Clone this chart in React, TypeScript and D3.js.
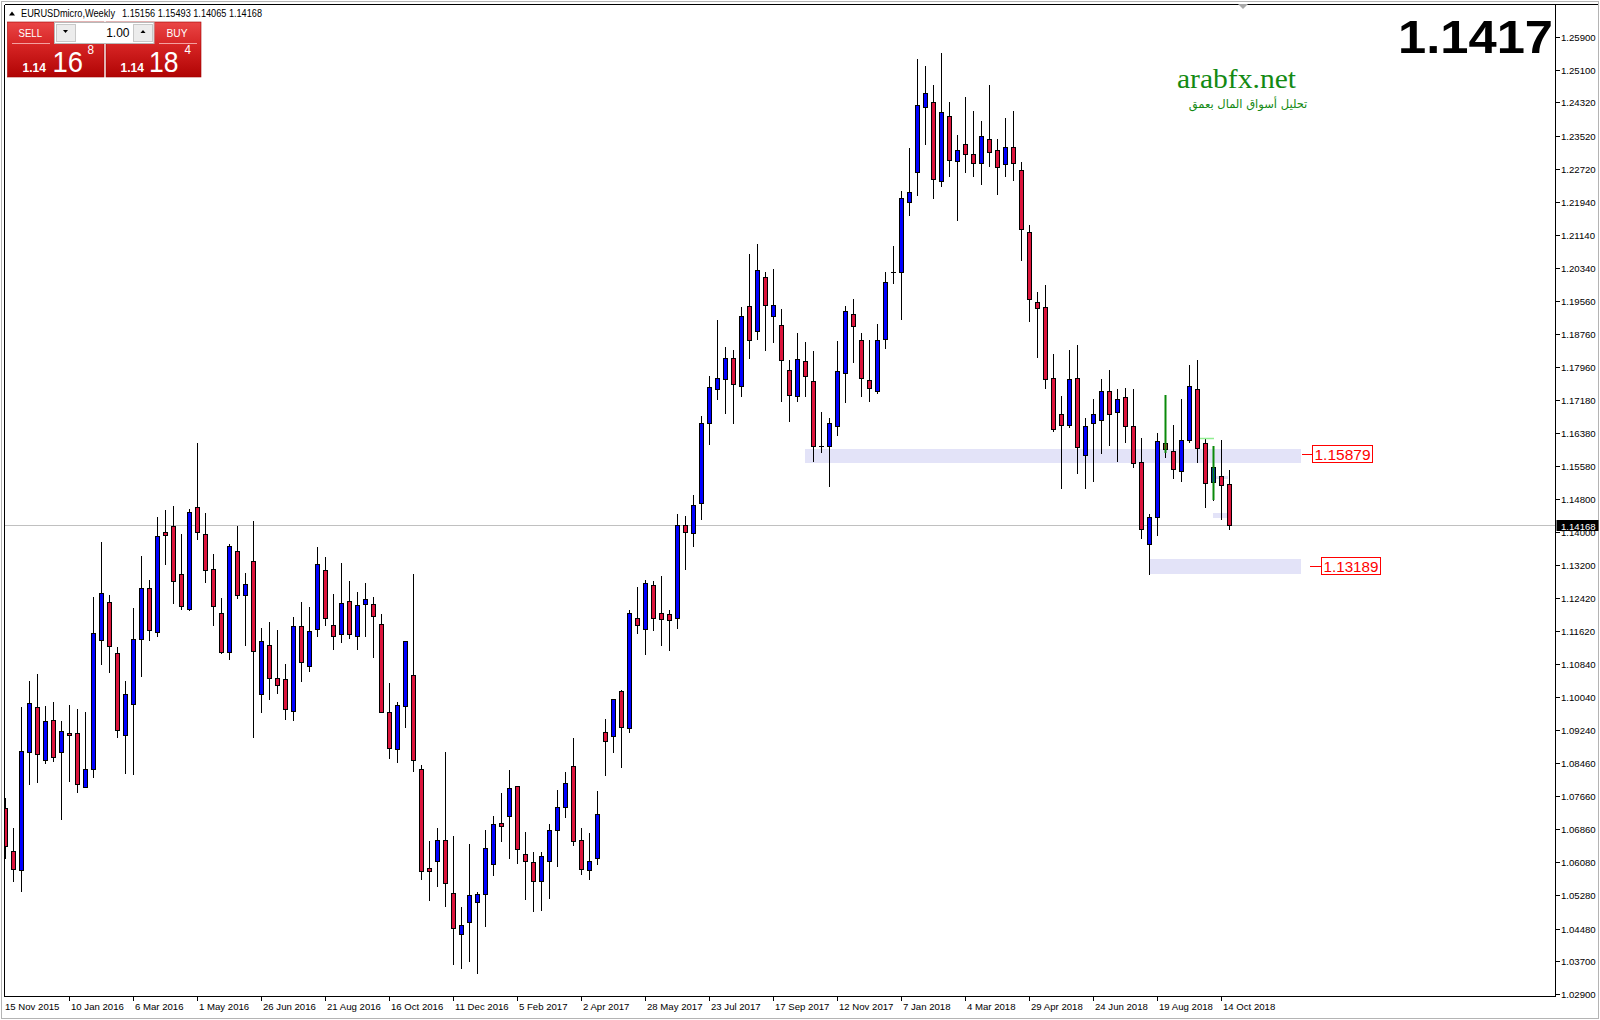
import React, { useEffect, useRef } from 'react';
import * as d3 from 'd3';

// weekly EURUSD candles, first bar = week of 15 Nov 2015
// [open, high, low, close]
const ohlc: [number, number, number, number][] = [
  [1.0737, 1.0761, 1.0617, 1.0645], [1.0635, 1.0689, 1.0563, 1.0590], [1.0589, 1.0979, 1.0539, 1.0875], [1.0871, 1.1043, 1.0794, 1.0990],
  [1.0981, 1.1059, 1.0801, 1.0867], [1.0853, 1.0982, 1.0845, 1.0947], [1.0950, 1.0992, 1.0851, 1.0859], [1.0871, 1.0946, 1.0710, 1.0923],
  [1.0917, 1.0984, 1.0803, 1.0912], [1.0918, 1.0975, 1.0777, 1.0795], [1.0789, 1.0968, 1.0787, 1.0830], [1.0830, 1.1244, 1.0813, 1.1157],
  [1.1140, 1.1376, 1.1083, 1.1253], [1.1232, 1.1249, 1.1065, 1.1127], [1.1109, 1.1123, 1.0909, 1.0926], [1.0912, 1.1043, 1.0822, 1.1011],
  [1.0987, 1.1218, 1.0820, 1.1143], [1.1143, 1.1343, 1.1055, 1.1265], [1.1265, 1.1284, 1.1141, 1.1164], [1.1159, 1.1436, 1.1151, 1.1390],
  [1.1400, 1.1453, 1.1324, 1.1392], [1.1414, 1.1463, 1.1231, 1.1282], [1.1299, 1.1396, 1.1216, 1.1222], [1.1215, 1.1456, 1.1212, 1.1448],
  [1.1460, 1.1614, 1.1384, 1.1400], [1.1395, 1.1446, 1.1281, 1.1308], [1.1311, 1.1348, 1.1177, 1.1222], [1.1207, 1.1242, 1.1109, 1.1111],
  [1.1111, 1.1372, 1.1096, 1.1366], [1.1354, 1.1415, 1.1243, 1.1248], [1.1248, 1.1302, 1.1130, 1.1275], [1.1330, 1.1427, 1.0909, 1.1114],
  [1.1011, 1.1170, 1.0969, 1.1138], [1.1128, 1.1184, 1.1000, 1.1049], [1.1049, 1.1165, 1.1014, 1.1032], [1.1047, 1.1083, 1.0952, 1.0975],
  [1.0970, 1.1196, 1.0950, 1.1174], [1.1174, 1.1232, 1.1043, 1.1087], [1.1078, 1.1220, 1.1067, 1.1162], [1.1167, 1.1364, 1.1151, 1.1323],
  [1.1308, 1.1340, 1.1177, 1.1193], [1.1176, 1.1251, 1.1120, 1.1151], [1.1156, 1.1325, 1.1137, 1.1229], [1.1234, 1.1282, 1.1146, 1.1155],
  [1.1151, 1.1256, 1.1120, 1.1224], [1.1228, 1.1278, 1.1151, 1.1239], [1.1227, 1.1244, 1.1101, 1.1199], [1.1179, 1.1203, 1.0967, 1.0969],
  [1.0967, 1.1038, 1.0858, 1.0882], [1.0880, 1.0991, 1.0849, 1.0984], [1.0983, 1.1139, 1.0933, 1.1139], [1.1058, 1.1300, 1.0827, 1.0853],
  [1.0830, 1.0841, 1.0567, 1.0587], [1.0593, 1.0658, 1.0517, 1.0587], [1.0609, 1.0690, 1.0550, 1.0660], [1.0660, 1.0872, 1.0503, 1.0558],
  [1.0533, 1.0670, 1.0363, 1.0449], [1.0436, 1.0500, 1.0352, 1.0456], [1.0464, 1.0651, 1.0371, 1.0528], [1.0512, 1.0535, 1.0340, 1.0530],
  [1.0530, 1.0685, 1.0453, 1.0641], [1.0602, 1.0718, 1.0577, 1.0698], [1.0701, 1.0774, 1.0658, 1.0695], [1.0719, 1.0829, 1.0618, 1.0785],
  [1.0790, 1.0790, 1.0606, 1.0638], [1.0626, 1.0680, 1.0520, 1.0609], [1.0607, 1.0631, 1.0491, 1.0561], [1.0561, 1.0631, 1.0493, 1.0622],
  [1.0609, 1.0698, 1.0522, 1.0684], [1.0684, 1.0781, 1.0599, 1.0739], [1.0739, 1.0824, 1.0717, 1.0797], [1.0838, 1.0905, 1.0649, 1.0658],
  [1.0660, 1.0690, 1.0580, 1.0590], [1.0588, 1.0677, 1.0568, 1.0610], [1.0617, 1.0778, 1.0602, 1.0722], [1.0919, 1.0951, 1.0817, 1.0898],
  [1.0910, 1.1000, 1.0873, 1.0999], [1.1018, 1.1020, 1.0837, 1.0931], [1.0929, 1.1212, 1.0921, 1.1205], [1.1193, 1.1268, 1.1158, 1.1178],
  [1.1168, 1.1285, 1.1108, 1.1279], [1.1272, 1.1282, 1.1164, 1.1195], [1.1205, 1.1295, 1.1130, 1.1192], [1.1203, 1.1213, 1.1118, 1.1190],
  [1.1195, 1.1444, 1.1170, 1.1418], [1.1416, 1.1439, 1.1311, 1.1400], [1.1397, 1.1489, 1.1367, 1.1465], [1.1469, 1.1680, 1.1432, 1.1661],
  [1.1661, 1.1775, 1.1611, 1.1748], [1.1743, 1.1910, 1.1719, 1.1771], [1.1769, 1.1845, 1.1687, 1.1819], [1.1819, 1.1837, 1.1661, 1.1757],
  [1.1752, 1.1940, 1.1728, 1.1920], [1.1942, 1.2068, 1.1819, 1.1862], [1.1882, 1.2092, 1.1864, 1.2029], [1.2014, 1.2026, 1.1837, 1.1945],
  [1.1918, 1.2031, 1.1857, 1.1945], [1.1897, 1.1935, 1.1714, 1.1813], [1.1789, 1.1814, 1.1668, 1.1730], [1.1726, 1.1878, 1.1716, 1.1817],
  [1.1811, 1.1857, 1.1727, 1.1776], [1.1763, 1.1835, 1.1572, 1.1606], [1.1606, 1.1689, 1.1592, 1.1606], [1.1606, 1.1675, 1.1512, 1.1661],
  [1.1656, 1.1859, 1.1633, 1.1786], [1.1783, 1.1943, 1.1712, 1.1931], [1.1923, 1.1959, 1.1808, 1.1896], [1.1861, 1.1878, 1.1728, 1.1771],
  [1.1765, 1.1862, 1.1716, 1.1747], [1.1738, 1.1899, 1.1735, 1.1861], [1.1864, 1.2025, 1.1842, 1.2000], [1.2026, 1.2087, 1.1999, 1.2026],
  [1.2024, 1.2219, 1.1912, 1.2202], [1.2192, 1.2322, 1.2162, 1.2216], [1.2266, 1.2536, 1.2210, 1.2427], [1.2420, 1.2520, 1.2332, 1.2454],
  [1.2432, 1.2474, 1.2203, 1.2249], [1.2243, 1.2552, 1.2232, 1.2408], [1.2399, 1.2432, 1.2256, 1.2293], [1.2291, 1.2354, 1.2150, 1.2317],
  [1.2332, 1.2445, 1.2266, 1.2308], [1.2308, 1.2412, 1.2256, 1.2286], [1.2286, 1.2387, 1.2237, 1.2351], [1.2345, 1.2474, 1.2280, 1.2312],
  [1.2317, 1.2344, 1.2213, 1.2278], [1.2284, 1.2395, 1.2256, 1.2324], [1.2326, 1.2412, 1.2246, 1.2286], [1.2269, 1.2289, 1.2053, 1.2127],
  [1.2122, 1.2137, 1.1908, 1.1959], [1.1952, 1.1977, 1.1820, 1.1938], [1.1940, 1.1993, 1.1747, 1.1767], [1.1770, 1.1827, 1.1642, 1.1648],
  [1.1683, 1.1726, 1.1507, 1.1657], [1.1657, 1.1837, 1.1652, 1.1767], [1.1770, 1.1849, 1.1542, 1.1604], [1.1585, 1.1673, 1.1505, 1.1654],
  [1.1661, 1.1720, 1.1523, 1.1683], [1.1669, 1.1767, 1.1590, 1.1740], [1.1738, 1.1790, 1.1610, 1.1683], [1.1688, 1.1743, 1.1572, 1.1719],
  [1.1724, 1.1747, 1.1617, 1.1654], [1.1654, 1.1743, 1.1557, 1.1566], [1.1568, 1.1625, 1.1385, 1.1408], [1.1371, 1.1443, 1.1299, 1.1437],
  [1.1436, 1.1637, 1.1393, 1.1618], [1.1615, 1.1730, 1.1581, 1.1600], [1.1594, 1.1657, 1.1529, 1.1551], [1.1547, 1.1720, 1.1523, 1.1621],
  [1.1621, 1.1801, 1.1616, 1.1752], [1.1743, 1.1813, 1.1568, 1.1601], [1.1613, 1.1623, 1.1461, 1.1519], [1.1521, 1.1607, 1.1478, 1.1556],
  [1.1536, 1.1621, 1.1431, 1.1514], [1.15156, 1.15493, 1.14065, 1.14168],
];

// time axis labels, one every 8 bars starting at bar 0
const timeLabels = [
  '15 Nov 2015', '10 Jan 2016', '6 Mar 2016', '1 May 2016', '26 Jun 2016', '21 Aug 2016', '16 Oct 2016',
  '11 Dec 2016', '5 Feb 2017', '2 Apr 2017', '28 May 2017', '23 Jul 2017', '17 Sep 2017', '12 Nov 2017',
  '7 Jan 2018', '4 Mar 2018', '29 Apr 2018', '24 Jun 2018', '19 Aug 2018', '14 Oct 2018',
];
const labelStep = 8;

const priceTicks = [
  1.259, 1.251, 1.2432, 1.2352, 1.2272, 1.2194, 1.2114, 1.2034, 1.1956, 1.1876, 1.1796, 1.1718, 1.1638, 1.1558, 1.148,
  1.14, 1.132, 1.1242, 1.1162, 1.1084, 1.1004, 1.0924, 1.0846, 1.0766, 1.0686, 1.0608, 1.0528, 1.0448, 1.037, 1.029,
];

// zones: [fromBar, toBar, topPrice, bottomPrice, level]
const zones: [number, number, number, number, number][] = [
  [100, 162, 1.1599, 1.1567, 1.15879],
  [143, 162, 1.1335, 1.1300, 1.13189],
];

// green marker lines drawn on the chart: [bar, fromPrice, toPrice]
const greenMarks: [number, number, number][] = [
  [145, 1.1730, 1.1591],
  [151, 1.1607, 1.1478],
];

const symbolName = 'EURUSDmicro,Weekly';
const lastQuote = [1.15156, 1.15493, 1.14065, 1.14168];
const bidParts = ['1.14', '16', '8'];
const askParts = ['1.14', '18', '4'];

const W = 1600;
const H = 1020;
const plot = { left: 4.5, top: 4.5, right: 1555.5, bottom: 996.5 };
const axisFont = '"Liberation Sans", Arial, sans-serif';

const App: React.FC = () => {
  const svgRef = useRef<SVGSVGElement | null>(null);

  useEffect(() => {
    if (!svgRef.current) return;
    const svg = d3.select(svgRef.current);
    svg.selectAll('*').remove();

    const x = d3.scaleLinear().domain([0, 1]).range([5, 13]); // bar index -> pixel column
    const y = d3.scaleLinear().domain([1.029, 1.259]).range([994.3, 36.7]);
    const ry = (p: number) => Math.round(y(p));

    const defs = svg.append('defs');
    defs.append('clipPath').attr('id', 'plotClip')
      .append('rect').attr('x', plot.left + 0.5).attr('y', plot.top + 0.5)
      .attr('width', plot.right - plot.left - 1).attr('height', plot.bottom - plot.top - 1);
    const grad = defs.append('linearGradient').attr('id', 'redGrad').attr('x1', 0).attr('y1', 0).attr('x2', 0).attr('y2', 1);
    grad.append('stop').attr('offset', '0%').attr('stop-color', '#ea4646');
    grad.append('stop').attr('offset', '45%').attr('stop-color', '#d42222');
    grad.append('stop').attr('offset', '100%').attr('stop-color', '#b00404');

    svg.append('rect').attr('width', W).attr('height', H).attr('fill', '#ffffff');
    // window frame
    svg.append('rect').attr('x', 1.5).attr('y', 1.5).attr('width', W - 3).attr('height', H - 3)
      .attr('fill', 'none').attr('stroke', '#b4b4b4');

    const chart = svg.append('g').attr('clip-path', 'url(#plotClip)');

    // zones behind everything
    zones.forEach(([b0, b1, top, bot]) => {
      chart.append('rect')
        .attr('x', x(b0)).attr('y', ry(top))
        .attr('width', x(b1) - x(b0)).attr('height', ry(bot) - ry(top))
        .attr('fill', '#e3e3f8');
    });
    // small leftover rectangle bits near the last bars
    [[1.1536, 1.1528], [1.1445, 1.1434]].forEach(([t, b]) => {
      chart.append('rect').attr('x', x(151)).attr('y', ry(t)).attr('width', x(153) - x(151) - 1)
        .attr('height', Math.max(3, ry(b) - ry(t))).attr('fill', '#e3e3f8');
    });

    // current price line
    const last = ohlc[ohlc.length - 1][3];
    chart.append('line')
      .attr('x1', plot.left).attr('x2', plot.right)
      .attr('y1', ry(last) + 0.5).attr('y2', ry(last) + 0.5)
      .attr('stroke', '#c0c0c0').attr('stroke-width', 1);

    // candles
    const candles = chart.append('g').attr('shape-rendering', 'crispEdges');
    ohlc.forEach(([o, h, l, c], i) => {
      const cx = x(i);
      candles.append('line')
        .attr('x1', cx + 0.5).attr('x2', cx + 0.5)
        .attr('y1', ry(h)).attr('y2', ry(l) + 1)
        .attr('stroke', '#000');
      const top = ry(Math.max(o, c));
      const bot = ry(Math.min(o, c));
      if (bot - top < 1) {
        candles.append('line')
          .attr('x1', cx - 2).attr('x2', cx + 3)
          .attr('y1', top + 0.5).attr('y2', top + 0.5)
          .attr('stroke', '#000');
      } else {
        candles.append('rect')
          .attr('x', cx - 1.5).attr('y', top + 0.5)
          .attr('width', 4).attr('height', bot - top)
          .attr('fill', c >= o ? '#0000ff' : '#dc143c')
          .attr('stroke', '#000').attr('stroke-width', 1);
      }
    });

    greenMarks.forEach(([bar, p0, p1]) => {
      chart.append('line')
        .attr('x1', x(bar) + 0.5).attr('x2', x(bar) + 0.5)
        .attr('y1', ry(p0)).attr('y2', ry(p1))
        .attr('stroke', '#0a8a0a').attr('stroke-width', 2);
    });
    chart.append('line')
      .attr('x1', x(150) - 5).attr('x2', x(151) + 1)
      .attr('y1', ry(1.1627) + 0.5).attr('y2', ry(1.1627) + 0.5)
      .attr('stroke', '#90ee90').attr('stroke-width', 1.5);

    // plot frame
    const frame = svg.append('g').attr('shape-rendering', 'crispEdges').attr('stroke', '#000');
    frame.append('line').attr('x1', plot.left).attr('x2', W - 2).attr('y1', plot.top).attr('y2', plot.top);
    frame.append('line').attr('x1', plot.left).attr('x2', plot.left).attr('y1', plot.top).attr('y2', plot.bottom);
    frame.append('line').attr('x1', plot.left).attr('x2', plot.right).attr('y1', plot.bottom).attr('y2', plot.bottom);
    frame.append('line').attr('x1', plot.right).attr('x2', plot.right).attr('y1', plot.top).attr('y2', plot.bottom);

    // price axis
    const pAxis = svg.append('g');
    priceTicks.forEach((p) => {
      const yy = ry(p) + 0.5;
      pAxis.append('line').attr('x1', plot.right).attr('x2', plot.right + 4)
        .attr('y1', yy).attr('y2', yy).attr('stroke', '#000').attr('shape-rendering', 'crispEdges');
      pAxis.append('text').attr('x', plot.right + 5.5).attr('y', yy + 3.5)
        .attr('font-family', axisFont).attr('font-size', 9.6).attr('fill', '#000')
        .text(p.toFixed(5));
    });
    // current price tag
    pAxis.append('rect').attr('x', plot.right + 1).attr('y', ry(last) - 5)
      .attr('width', 42).attr('height', 11).attr('fill', '#000');
    pAxis.append('text').attr('x', plot.right + 5.5).attr('y', ry(last) + 4.5)
      .attr('font-family', axisFont).attr('font-size', 9.6).attr('fill', '#fff')
      .text(last.toFixed(5));

    // time axis
    const tAxis = svg.append('g');
    timeLabels.forEach((lab, k) => {
      const cx = x(k * labelStep);
      if (k > 0) {
        tAxis.append('line').attr('x1', cx + 0.5).attr('x2', cx + 0.5)
          .attr('y1', plot.bottom).attr('y2', plot.bottom + 4)
          .attr('stroke', '#000').attr('shape-rendering', 'crispEdges');
      }
      tAxis.append('text').attr('x', cx + (k === 0 ? 0 : 2)).attr('y', 1009.5)
        .attr('font-family', axisFont).attr('font-size', 9.6).attr('fill', '#000')
        .text(lab);
    });

    // level labels
    const labelPos = [
      { lx: 1302, bx: 1312, bw: 60 },
      { lx: 1310, bx: 1321, bw: 59 },
    ];
    zones.forEach(([, , , , lvl], k) => {
      const yy = ry(lvl) + 0.5;
      const { lx, bx, bw } = labelPos[k];
      svg.append('line').attr('x1', lx).attr('x2', bx).attr('y1', yy).attr('y2', yy)
        .attr('stroke', '#ff0000').attr('shape-rendering', 'crispEdges');
      svg.append('rect').attr('x', bx + 0.5).attr('y', yy - 9).attr('width', bw).attr('height', 17)
        .attr('fill', '#fff').attr('stroke', '#ff0000').attr('shape-rendering', 'crispEdges');
      svg.append('text').attr('x', bx + 2.5).attr('y', yy + 5.5)
        .attr('font-family', axisFont).attr('font-size', 15.5).attr('fill', '#ff0000')
        .attr('textLength', bw - 4).attr('lengthAdjust', 'spacingAndGlyphs')
        .text(lvl.toFixed(5));
    });

    // chart shift marker
    svg.append('path').attr('d', 'M1238,4 L1248,4 L1243,9 Z').attr('fill', '#a8a8a8');

    // big last price
    svg.append('text').attr('x', 1553).attr('y', 53)
      .attr('text-anchor', 'end')
      .attr('font-family', axisFont).attr('font-weight', 'bold').attr('font-size', 46)
      .attr('textLength', 155).attr('lengthAdjust', 'spacingAndGlyphs')
      .attr('fill', '#000')
      .text(last.toFixed(4));

    // watermark
    svg.append('text').attr('x', 1177).attr('y', 88)
      .attr('font-family', '"Liberation Serif", "Times New Roman", serif').attr('font-size', 27)
      .attr('textLength', 119).attr('lengthAdjust', 'spacingAndGlyphs')
      .attr('fill', '#138a13').text('arabfx.net');
    svg.append('text').attr('x', 1248).attr('y', 108)
      .attr('text-anchor', 'middle')
      .attr('font-family', '"DejaVu Sans", sans-serif').attr('font-size', 11.5)
      .attr('fill', '#138a13').attr('direction', 'rtl')
      .text('تحليل أسواق المال بعمق');

    // header line
    svg.append('path').attr('d', 'M9,15.5 L15,15.5 L12,11.5 Z').attr('fill', '#000');
    svg.append('text').attr('x', 21).attr('y', 16.5)
      .attr('font-family', axisFont).attr('font-size', 10).attr('fill', '#000')
      .attr('textLength', 94).attr('lengthAdjust', 'spacingAndGlyphs')
      .text(symbolName);
    svg.append('text').attr('x', 122).attr('y', 16.5)
      .attr('font-family', axisFont).attr('font-size', 10).attr('fill', '#000')
      .attr('textLength', 140).attr('lengthAdjust', 'spacingAndGlyphs')
      .text(lastQuote.map((v) => v.toFixed(5)).join(' '));

    // one-click trading panel
    const panel = svg.append('g');
    const block = (x0: number, w: number) => panel.append('rect')
      .attr('x', x0).attr('y', 22).attr('width', w).attr('height', 55)
      .attr('fill', 'url(#redGrad)').attr('stroke', '#a00000').attr('stroke-width', 0.6);
    block(7.5, 96.5);
    block(106, 95);
    panel.append('line').attr('x1', 12).attr('x2', 50).attr('y1', 43.5).attr('y2', 43.5)
      .attr('stroke', '#f4a0a0').attr('stroke-width', 1);
    panel.append('line').attr('x1', 159).attr('x2', 197).attr('y1', 43.5).attr('y2', 43.5)
      .attr('stroke', '#f4a0a0').attr('stroke-width', 1);
    // lot box
    panel.append('rect').attr('x', 54.5).attr('y', 22.5).attr('width', 99.5).attr('height', 21)
      .attr('fill', '#fff').attr('stroke', '#b8b8b8');
    panel.append('rect').attr('x', 56.5).attr('y', 24.5).attr('width', 19).attr('height', 17)
      .attr('fill', '#ececec').attr('stroke', '#c8c8c8');
    panel.append('rect').attr('x', 133.5).attr('y', 24.5).attr('width', 19).attr('height', 17)
      .attr('fill', '#ececec').attr('stroke', '#c8c8c8');
    panel.append('path').attr('d', 'M63,30 L68,30 L65.5,33 Z').attr('fill', '#000');
    panel.append('path').attr('d', 'M140.5,33 L145.5,33 L143,30 Z').attr('fill', '#000');
    panel.append('text').attr('x', 129.5).attr('y', 36.5).attr('text-anchor', 'end')
      .attr('font-family', axisFont).attr('font-size', 12).attr('fill', '#000').text('1.00');

    const txt = (tx: number, ty: number, s: string, size: number, len: number, bold = false) =>
      panel.append('text').attr('x', tx).attr('y', ty)
        .attr('font-family', axisFont).attr('font-size', size)
        .attr('font-weight', bold ? 'bold' : 'normal')
        .attr('textLength', len).attr('lengthAdjust', 'spacingAndGlyphs')
        .attr('fill', '#fff').text(s);
    txt(18.5, 36.5, 'SELL', 11.5, 23.5);
    txt(166.5, 36.5, 'BUY', 11.5, 21);
    txt(22.5, 71.5, bidParts[0], 12, 23.5, true);
    txt(52.5, 71.5, bidParts[1], 30, 30.5);
    txt(87.5, 53.5, bidParts[2], 12.5, 6.5);
    txt(120.5, 71.5, askParts[0], 12, 23.5, true);
    txt(149, 71.5, askParts[1], 30, 29.5);
    txt(184.5, 53.5, askParts[2], 12.5, 6.5);
  }, []);

  return (
    <svg
      ref={svgRef}
      width={W}
      height={H}
      style={{ position: 'absolute', left: 0, top: 0, display: 'block' }}
    />
  );
};

export default App;
